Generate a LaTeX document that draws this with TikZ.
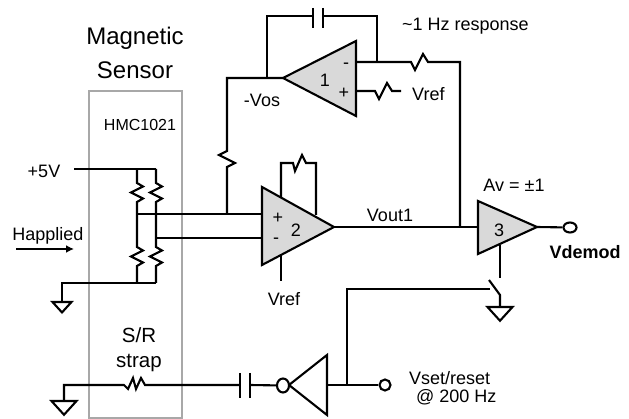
\documentclass[tikz,border=0pt]{standalone}
\usepackage{fontspec}
\usetikzlibrary{arrows.meta,shapes.geometric}
\setmainfont{Liberation Sans}
\definecolor{ampgrey}{HTML}{D9D9D9}
\definecolor{boxgrey}{HTML}{A8A8A8}
\tikzset{
  wire/.style={draw=black,line width=2.1pt,line join=miter},
  amp/.style={wire,fill=ampgrey},
  lbl/.style={inner sep=0pt,font=\fontsize{16}{16}\selectfont},
  bigl/.style={inner sep=0pt,font=\fontsize{18}{18}\selectfont},
  hugel/.style={inner sep=0pt,font=\fontsize{24}{24}\selectfont},
  midl/.style={inner sep=0pt,font=\fontsize{20.5}{20.5}\selectfont},
}
\newcommand{\gnd}[3]{\draw[wire,fill=white] (#1,#2) ++(-#3,0) -- ++(2*#3,0) -- ++(-#3,{#3*1.1}) -- cycle;}
\begin{document}
\begin{tikzpicture}[x=1pt,y=-1pt]
\useasboundingbox (0,0) rectangle (629,419);
% sensor box
\node[draw=boxgrey,line width=2.1pt,minimum width=93pt,minimum height=327pt,inner sep=0pt] (sensor) at (135.5,254.5) {};
\node[hugel] (mag) at (135,38) {Magnetic};
\node[hugel] (sen) at (135,70) {Sensor};
\node[lbl] (hmc) at (140,125) {HMC1021};
% named points
\coordinate (r1t) at (137,169);
\coordinate (r2t) at (156,169);
\coordinate (vcc) at (74,169);
\coordinate (mid1) at (137,214);
\coordinate (mid2) at (156,238);
\coordinate (r1b) at (137,283);
\coordinate (r2b) at (156,283);
\coordinate (gl) at (62,283);
\coordinate (gle) at (62,302);
% bridge
\draw[wire] (vcc) -- (r2t);
\draw[wire] (r2b) -- (gl) -- (gle);
\gnd{62}{302}{9.5}
\foreach \x in {137,156}{
  \draw[wire] (\x,169) -- (\x,183) -- ++(6,3.5) -- ++(-12,6) -- ++(12,6) -- ++(-6,3.5) -- (\x,247) -- ++(6,3.5) -- ++(-12,6) -- ++(12,6) -- ++(-6,3.5) -- (\x,283);
}
\node[bigl] (p5) at (44,171) {+5V};
\node[bigl] (hap) at (48,236) {Happlied};
\coordinate (ha) at (16,249);
\coordinate (hb) at (74,249);
\draw[wire,-{Latex[length=8pt,width=8pt]}] (ha) -- (hb);
% amp 2
\coordinate (a2in1) at (262,214);
\coordinate (a2in2) at (262,238);
\coordinate (a2o) at (334,227);
\draw[wire] (mid1) -- (a2in1);
\draw[wire] (mid2) -- (a2in2);
\draw[wire] (281,197) -- (281,163) -- (293,163) -- ++(2,8) -- ++(7,-16) -- ++(4,8) -- (316,163) -- (316,215);
\draw[wire] (281,255) -- (281,281);
\draw[amp] (262,187) -- (a2o) -- (262,265) -- cycle;
\node[bigl] (two) at (296,230) {2};
\node[bigl] (pl2) at (278,218) {+};
\node[bigl] (mi2) at (276,241) {-};
\node[bigl] (vr2) at (284,299) {Vref};
% offset path
\coordinate (j1) at (227,214);
\coordinate (a1o) at (283,78);
\draw[wire] (j1) -- (227,167) -- ++(8,-4) -- ++(-16,-8) -- ++(8,-4) -- (227,78) -- (a1o);
% amp 1
\draw[wire] (267,78) -- (267,16) -- (313,16);
\draw[wire] (323,16) -- (377,16) -- (377,62);
\draw[wire] (313,8) -- (313,28);
\draw[wire] (323,8) -- (323,28);
\draw[wire] (356,62) -- (411,62) -- ++(4,8) -- ++(8,-16) -- ++(5,8) -- (460,62) -- (460,227);
\draw[wire] (356,91) -- (375,91) -- ++(4,8) -- ++(8,-16) -- ++(5,8) -- (401,91);
\draw[amp] (a1o) -- (356,41) -- (356,116) -- cycle;
\node[bigl] (one) at (325,80) {1};
\node[bigl] (pl1) at (344,93) {+};
\node[bigl] (mi1) at (346,66) {-};
\node[bigl] (vos) at (262,100) {-Vos};
\node[bigl,anchor=west] (vr1) at (412,94) {Vref};
\node[bigl,anchor=west] (resp) at (402,26) {\textasciitilde 1 Hz response};
% amp 3
\coordinate (a3i) at (478,227);
\coordinate (a3o) at (537,227);
\draw[wire] (a2o) -- (a3i);
\draw[wire] (500,245) -- (500,278);
\draw[amp] (478,201) -- (a3o) -- (478,254) -- cycle;
\node[draw=black,line width=2.1pt,fill=white,ellipse,minimum width=13pt,minimum height=10pt,inner sep=0pt] (vdc) at (570,227.5) {};
\draw[wire] (a3o) -- (vdc);
\node[bigl] (three) at (499,230) {3};
\node[bigl] (av) at (514,185) {Av = ±1};
\node[bigl,font=\bfseries\fontsize{18}{18}\selectfont] (vd) at (585,252) {Vdemod};
\node[bigl] (vo) at (390,215) {Vout1};
% switch
\draw[wire] (489,280) -- (500,295) -- (500,307);
\gnd{500}{307}{12.5}
% bottom row
\gnd{64}{401}{12.5}
\node[midl] (sr) at (139,335) {S/R};
\node[midl] (st) at (139,363) {strap};
\coordinate (c1) at (240,385);
\coordinate (c2) at (250,385);
\draw[wire] (64,401) -- (64,385) -- (124,385) -- ++(4,4) -- ++(5,-11) -- ++(3,11) -- ++(5,-11) -- ++(4,7) -- (c1);
\draw[wire] (240,373) -- (240,398);
\draw[wire] (250,373) -- (250,398);
\coordinate (invin) at (289,385);
\draw[wire,fill=white] (invin) -- (327,355) -- (327,415) -- cycle;
\node[draw=black,line width=2.1pt,fill=white,ellipse,minimum width=12pt,minimum height=14pt,inner sep=0pt] (bub) at (283,385.5) {};
\draw[wire] (c2) -- (bub);
\node[draw=black,line width=2.1pt,fill=white,circle,minimum size=11pt,inner sep=0pt] (vs) at (385,385) {};
\draw[wire] (327,385) -- (vs);
\coordinate (sw) at (490,289);
\draw[wire] (347,385) -- (347,289) -- (sw);
\node[bigl,anchor=west,align=left] (v1) at (409,388) {Vset/reset\\\hspace*{7pt}@ 200 Hz};
\end{tikzpicture}
\end{document}
